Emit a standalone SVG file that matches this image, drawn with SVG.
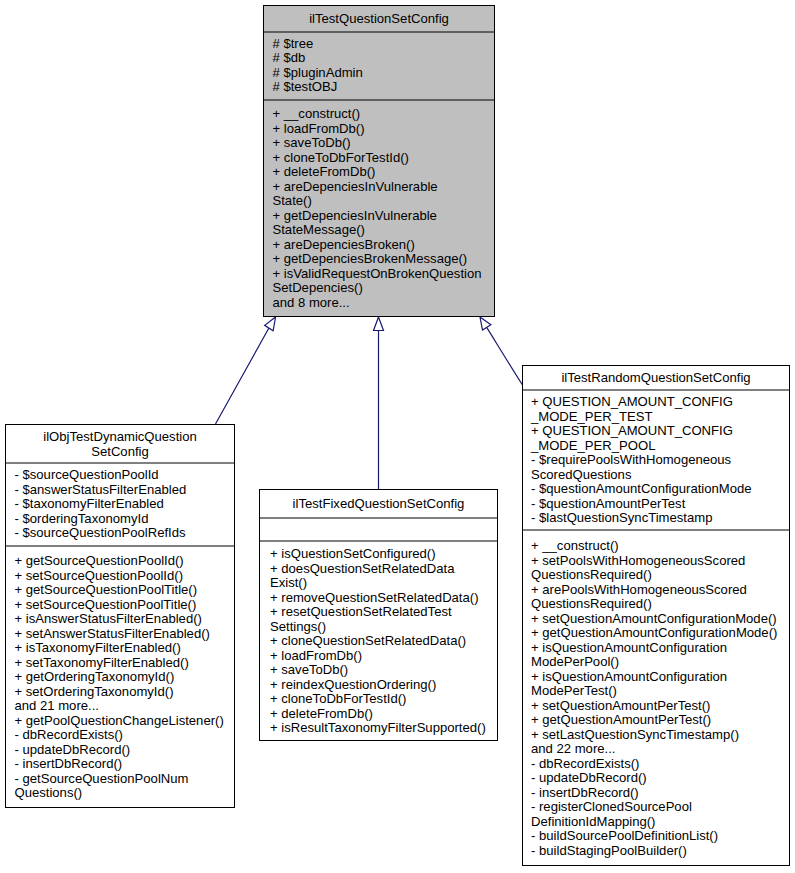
<svg xmlns="http://www.w3.org/2000/svg" width="795" height="873" viewBox="0 0 795 873">
<style>
  .box { fill: #ffffff; stroke: #000000; stroke-width: 1; }
  .base { fill: #bfbfbf; stroke: #000000; stroke-width: 1; }
  .sep { stroke: #000000; stroke-width: 1; }
  text { font-family: "Liberation Sans", Arial, Helvetica, sans-serif; font-size: 13.1px; fill: #000000; }
  .title { text-anchor: middle; }
  .edge { fill: none; stroke: #191970; stroke-width: 1.2; }
  .head { fill: #ffffff; stroke: #191970; stroke-width: 1.2; }
</style>
<rect width="795" height="873" fill="#ffffff"/>

<g id="connectors">
  <path class="edge" d="M215.5,424 C231,396 254,355 268.9,328"/>
  <polygon class="head" points="275.6,317 273.15,330.65 264.65,325.35"/>
  <path class="edge" d="M378.5,489 L378.5,330.5"/>
  <polygon class="head" points="378.5,317 383.5,330.5 373.5,330.5"/>
  <path class="edge" d="M522.5,385 C511,367 497,344 486.7,327.4"/>
  <polygon class="head" points="480,317 490.9,324.7 482.5,330.1"/>
</g>

<g id="ilTestQuestionSetConfig">
  <rect class="base" x="263.5" y="5.5" width="231" height="311"/>
  <line class="sep" x1="263.5" y1="32" x2="494.5" y2="32"/>
  <line class="sep" x1="263.5" y1="100" x2="494.5" y2="100"/>
  <text class="title" x="379" y="23">ilTestQuestionSetConfig</text>
  <text x="272.5">
    <tspan x="272.5" y="47.5"># $tree</tspan>
    <tspan x="272.5" y="62"># $db</tspan>
    <tspan x="272.5" y="76.5"># $pluginAdmin</tspan>
    <tspan x="272.5" y="91"># $testOBJ</tspan>
  </text>
  <text x="272.5">
    <tspan x="272.5" y="118">+ __construct()</tspan>
    <tspan x="272.5" y="132.5">+ loadFromDb()</tspan>
    <tspan x="272.5" y="147">+ saveToDb()</tspan>
    <tspan x="272.5" y="161.5">+ cloneToDbForTestId()</tspan>
    <tspan x="272.5" y="176">+ deleteFromDb()</tspan>
    <tspan x="272.5" y="190.5">+ areDepenciesInVulnerable</tspan>
    <tspan x="272.5" y="205">State()</tspan>
    <tspan x="272.5" y="219.5">+ getDepenciesInVulnerable</tspan>
    <tspan x="272.5" y="234">StateMessage()</tspan>
    <tspan x="272.5" y="248.5">+ areDepenciesBroken()</tspan>
    <tspan x="272.5" y="263">+ getDepenciesBrokenMessage()</tspan>
    <tspan x="272.5" y="277.5">+ isValidRequestOnBrokenQuestion</tspan>
    <tspan x="272.5" y="292">SetDepencies()</tspan>
    <tspan x="272.5" y="306.5">and 8 more...</tspan>
  </text>
</g>

<g id="ilObjTestDynamicQuestionSetConfig">
  <rect class="box" x="5.5" y="424.5" width="229" height="383"/>
  <line class="sep" x1="5.5" y1="463" x2="234.5" y2="463"/>
  <line class="sep" x1="5.5" y1="546" x2="234.5" y2="546"/>
  <text class="title" x="120" y="441">ilObjTestDynamicQuestion</text>
  <text class="title" x="120" y="455.5">SetConfig</text>
  <text x="14.5">
    <tspan x="14.5" y="479">- $sourceQuestionPoolId</tspan>
    <tspan x="14.5" y="493.5">- $answerStatusFilterEnabled</tspan>
    <tspan x="14.5" y="508">- $taxonomyFilterEnabled</tspan>
    <tspan x="14.5" y="522.5">- $orderingTaxonomyId</tspan>
    <tspan x="14.5" y="537">- $sourceQuestionPoolRefIds</tspan>
  </text>
  <text x="14.5">
    <tspan x="14.5" y="565">+ getSourceQuestionPoolId()</tspan>
    <tspan x="14.5" y="579.5">+ setSourceQuestionPoolId()</tspan>
    <tspan x="14.5" y="594">+ getSourceQuestionPoolTitle()</tspan>
    <tspan x="14.5" y="608.5">+ setSourceQuestionPoolTitle()</tspan>
    <tspan x="14.5" y="623">+ isAnswerStatusFilterEnabled()</tspan>
    <tspan x="14.5" y="637.5">+ setAnswerStatusFilterEnabled()</tspan>
    <tspan x="14.5" y="652">+ isTaxonomyFilterEnabled()</tspan>
    <tspan x="14.5" y="666.5">+ setTaxonomyFilterEnabled()</tspan>
    <tspan x="14.5" y="681">+ getOrderingTaxonomyId()</tspan>
    <tspan x="14.5" y="695.5">+ setOrderingTaxonomyId()</tspan>
    <tspan x="14.5" y="710">and 21 more...</tspan>
    <tspan x="14.5" y="724.5">+ getPoolQuestionChangeListener()</tspan>
    <tspan x="14.5" y="739">- dbRecordExists()</tspan>
    <tspan x="14.5" y="753.5">- updateDbRecord()</tspan>
    <tspan x="14.5" y="768">- insertDbRecord()</tspan>
    <tspan x="14.5" y="782.5">- getSourceQuestionPoolNum</tspan>
    <tspan x="14.5" y="797">Questions()</tspan>
  </text>
</g>

<g id="ilTestFixedQuestionSetConfig">
  <rect class="box" x="259.5" y="489.5" width="238" height="251"/>
  <line class="sep" x1="259.5" y1="518" x2="497.5" y2="518"/>
  <line class="sep" x1="259.5" y1="541" x2="497.5" y2="541"/>
  <text class="title" x="378.5" y="507.5">ilTestFixedQuestionSetConfig</text>
  <text x="270">
    <tspan x="270" y="558">+ isQuestionSetConfigured()</tspan>
    <tspan x="270" y="572.5">+ doesQuestionSetRelatedData</tspan>
    <tspan x="270" y="587">Exist()</tspan>
    <tspan x="270" y="601.5">+ removeQuestionSetRelatedData()</tspan>
    <tspan x="270" y="616">+ resetQuestionSetRelatedTest</tspan>
    <tspan x="270" y="630.5">Settings()</tspan>
    <tspan x="270" y="645">+ cloneQuestionSetRelatedData()</tspan>
    <tspan x="270" y="659.5">+ loadFromDb()</tspan>
    <tspan x="270" y="674">+ saveToDb()</tspan>
    <tspan x="270" y="688.5">+ reindexQuestionOrdering()</tspan>
    <tspan x="270" y="703">+ cloneToDbForTestId()</tspan>
    <tspan x="270" y="717.5">+ deleteFromDb()</tspan>
    <tspan x="270" y="732">+ isResultTaxonomyFilterSupported()</tspan>
  </text>
</g>

<g id="ilTestRandomQuestionSetConfig">
  <rect class="box" x="522.5" y="365.5" width="267" height="500"/>
  <line class="sep" x1="522.5" y1="390" x2="789.5" y2="390"/>
  <line class="sep" x1="522.5" y1="530" x2="789.5" y2="530"/>
  <text class="title" x="656" y="381.5">ilTestRandomQuestionSetConfig</text>
  <text x="531">
    <tspan x="531" y="406">+ QUESTION_AMOUNT_CONFIG</tspan>
    <tspan x="531" y="420.5">_MODE_PER_TEST</tspan>
    <tspan x="531" y="435">+ QUESTION_AMOUNT_CONFIG</tspan>
    <tspan x="531" y="449.5">_MODE_PER_POOL</tspan>
    <tspan x="531" y="464">- $requirePoolsWithHomogeneous</tspan>
    <tspan x="531" y="478.5">ScoredQuestions</tspan>
    <tspan x="531" y="493">- $questionAmountConfigurationMode</tspan>
    <tspan x="531" y="507.5">- $questionAmountPerTest</tspan>
    <tspan x="531" y="522">- $lastQuestionSyncTimestamp</tspan>
  </text>
  <text x="531">
    <tspan x="531" y="550">+ __construct()</tspan>
    <tspan x="531" y="564.5">+ setPoolsWithHomogeneousScored</tspan>
    <tspan x="531" y="579">QuestionsRequired()</tspan>
    <tspan x="531" y="593.5">+ arePoolsWithHomogeneousScored</tspan>
    <tspan x="531" y="608">QuestionsRequired()</tspan>
    <tspan x="531" y="622.5">+ setQuestionAmountConfigurationMode()</tspan>
    <tspan x="531" y="637">+ getQuestionAmountConfigurationMode()</tspan>
    <tspan x="531" y="651.5">+ isQuestionAmountConfiguration</tspan>
    <tspan x="531" y="666">ModePerPool()</tspan>
    <tspan x="531" y="680.5">+ isQuestionAmountConfiguration</tspan>
    <tspan x="531" y="695">ModePerTest()</tspan>
    <tspan x="531" y="709.5">+ setQuestionAmountPerTest()</tspan>
    <tspan x="531" y="724">+ getQuestionAmountPerTest()</tspan>
    <tspan x="531" y="738.5">+ setLastQuestionSyncTimestamp()</tspan>
    <tspan x="531" y="753">and 22 more...</tspan>
    <tspan x="531" y="767.5">- dbRecordExists()</tspan>
    <tspan x="531" y="782">- updateDbRecord()</tspan>
    <tspan x="531" y="796.5">- insertDbRecord()</tspan>
    <tspan x="531" y="811">- registerClonedSourcePool</tspan>
    <tspan x="531" y="825.5">DefinitionIdMapping()</tspan>
    <tspan x="531" y="840">- buildSourcePoolDefinitionList()</tspan>
    <tspan x="531" y="854.5">- buildStagingPoolBuilder()</tspan>
  </text>
</g>
</svg>
